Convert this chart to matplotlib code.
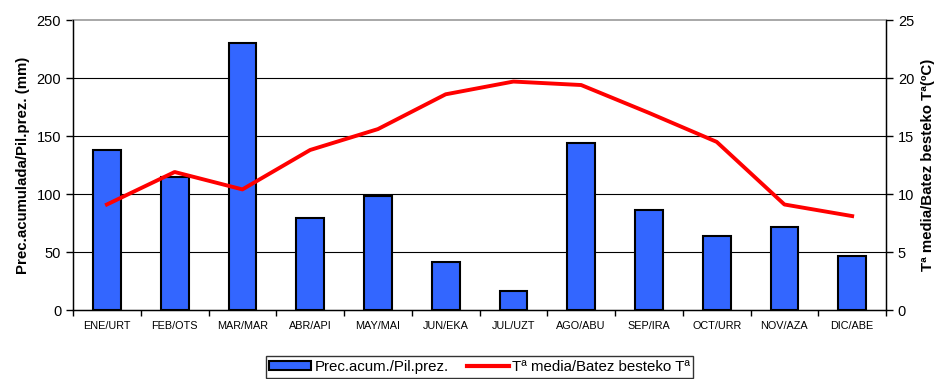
import matplotlib
matplotlib.use("Agg")
import matplotlib.pyplot as plt
import numpy as np
from matplotlib.lines import Line2D
from matplotlib.patches import Patch

plt.rcParams['font.family'] = ['Liberation Sans', 'DejaVu Sans']

months = ["ENE/URT", "FEB/OTS", "MAR/MAR", "ABR/API", "MAY/MAI", "JUN/EKA",
          "JUL/UZT", "AGO/ABU", "SEP/IRA", "OCT/URR", "NOV/AZA", "DIC/ABE"]
precip = [138, 115, 230, 79, 98, 41, 16, 144, 86, 64, 72, 47]
temp = [9.1, 11.9, 10.4, 13.8, 15.6, 18.6, 19.7, 19.4, 17.0, 14.5, 9.1, 8.1]

fig = plt.figure(figsize=(9.41, 3.79), dpi=100)
ax = fig.add_axes([0.0776, 0.182, 0.864, 0.765])
x = np.arange(len(months))

ax.set_axisbelow(True)
for v in [50, 100, 150, 200]:
    ax.axhline(v, color='black', lw=0.8, zorder=0)
bars = ax.bar(x, precip, width=0.41, color='#3366FF', edgecolor='black', lw=1.5, zorder=2)
ax.set_xlim(-0.5, len(months) - 0.5)
ax.set_ylim(0, 250)
ax.set_yticks(np.arange(0, 251, 50))
ax.tick_params(axis='y', labelsize=10.5, length=5, direction='out', width=1)
ax.set_xticks(x)
ax.set_xticklabels(months, fontsize=7.8)
ax.tick_params(axis='x', length=0, pad=8)
ax.set_xticks(np.arange(-0.5, len(months) + 0.5, 1), minor=True)
ax.tick_params(axis='x', which='minor', length=4, direction='out', width=1)
ax.set_ylabel("Prec.acumulada/Pil.prez. (mm)", fontsize=10.8, fontweight='bold', labelpad=5)
ax.spines['top'].set_color('#999999')
ax.spines['top'].set_linewidth(1.2)
for s in ['left', 'bottom', 'right']:
    ax.spines[s].set_color('black')
    ax.spines[s].set_linewidth(1)

ax2 = ax.twinx()
ax2.plot(x, temp, color='#FF0000', lw=2.8, zorder=3)
ax2.set_ylim(0, 25)
ax2.set_yticks(np.arange(0, 26, 5))
ax2.tick_params(axis='y', labelsize=10.5, length=5, direction='out', width=1)
ax2.set_ylabel("Tª media/Batez besteko Tª(ºC)", fontsize=10.8, fontweight='bold', labelpad=5)
ax2.spines['top'].set_visible(False)

handles = [Patch(facecolor='#3366FF', edgecolor='black', lw=1.5),
           Line2D([0], [0], color='#FF0000', lw=3)]
leg = fig.legend(handles, ["Prec.acum./Pil.prez.", "Tª media/Batez besteko Tª"],
                 loc='lower center', bbox_to_anchor=(0.5096, 0.0), ncol=2, fontsize=10.8,
                 frameon=True, fancybox=False, edgecolor='black', borderpad=0.25,
                 handlelength=2.8, handleheight=0.55, columnspacing=1.2, handletextpad=0.2,
                 borderaxespad=0.1)
leg.get_frame().set_linewidth(1)

fig.savefig("out.png", dpi=100, facecolor='white')
